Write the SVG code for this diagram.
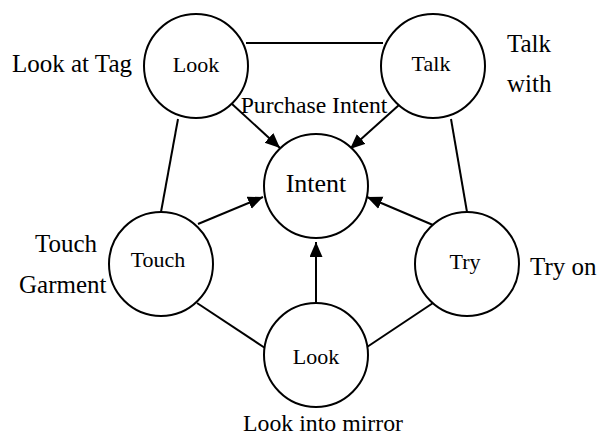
<svg xmlns="http://www.w3.org/2000/svg" width="600" height="435" viewBox="0 0 600 435">
<style>
.n{fill:#fff;stroke:#000;stroke-width:2}
.e{stroke:#000;stroke-width:2;fill:none}
text{font-family:"Liberation Serif","Times New Roman",serif;fill:#000}
.nl{font-size:22px;text-anchor:middle}
.sl{font-size:25px}
</style>
<defs>
<marker id="ah" markerUnits="userSpaceOnUse" markerWidth="16" markerHeight="14" refX="15" refY="6.5" orient="auto">
<path d="M0,0 L15,6.5 L0,13 Z" fill="#000"/>
</marker>
</defs>
<rect width="600" height="435" fill="#fff"/>
<g id="connectors">
<line class="e" x1="246" y1="43" x2="383" y2="43"/>
<line class="e" x1="178" y1="119" x2="161" y2="212"/>
<line class="e" x1="451" y1="119" x2="467" y2="212"/>
<line class="e" x1="197" y1="303" x2="265" y2="348"/>
<line class="e" x1="433" y1="303" x2="367" y2="347"/>
<line class="e" x1="232" y1="104" x2="280" y2="148" marker-end="url(#ah)"/>
<line class="e" x1="399" y1="105" x2="350" y2="149" marker-end="url(#ah)"/>
<line class="e" x1="198" y1="224" x2="263" y2="197" marker-end="url(#ah)"/>
<line class="e" x1="433" y1="225" x2="367" y2="197" marker-end="url(#ah)"/>
<line class="e" x1="316" y1="303" x2="316" y2="242" marker-end="url(#ah)"/>
</g>
<g id="look-tag">
<circle class="n" cx="196" cy="66" r="52"/>
<text class="nl" x="196" y="72">Look</text>
</g>
<g id="talk">
<circle class="n" cx="433" cy="66" r="52"/>
<text class="nl" x="431" y="71">Talk</text>
</g>
<g id="intent">
<circle class="n" cx="316" cy="186" r="52"/>
<text x="316" y="192" style="font-size:26px;text-anchor:middle">Intent</text>
</g>
<g id="touch">
<circle class="n" cx="161" cy="264" r="52"/>
<text class="nl" x="158" y="267">Touch</text>
</g>
<g id="try">
<circle class="n" cx="467" cy="264" r="52"/>
<text class="nl" x="465" y="269">Try</text>
</g>
<g id="look-mirror">
<circle class="n" cx="316" cy="355" r="52"/>
<text class="nl" x="316" y="364">Look</text>
</g>
<g id="labels">
<text x="314" y="113" style="font-size:23.7px;text-anchor:middle">Purchase Intent</text>
<text class="sl" x="12" y="72">Look at Tag</text>
<text class="sl" x="35" y="252">Touch</text>
<text class="sl" x="19" y="293">Garment</text>
<text class="sl" x="507" y="52">Talk</text>
<text class="sl" x="507" y="92">with</text>
<text class="sl" x="530" y="275">Try on</text>
<text x="323" y="431" style="font-size:23.8px;text-anchor:middle">Look into mirror</text>
</g>
</svg>
